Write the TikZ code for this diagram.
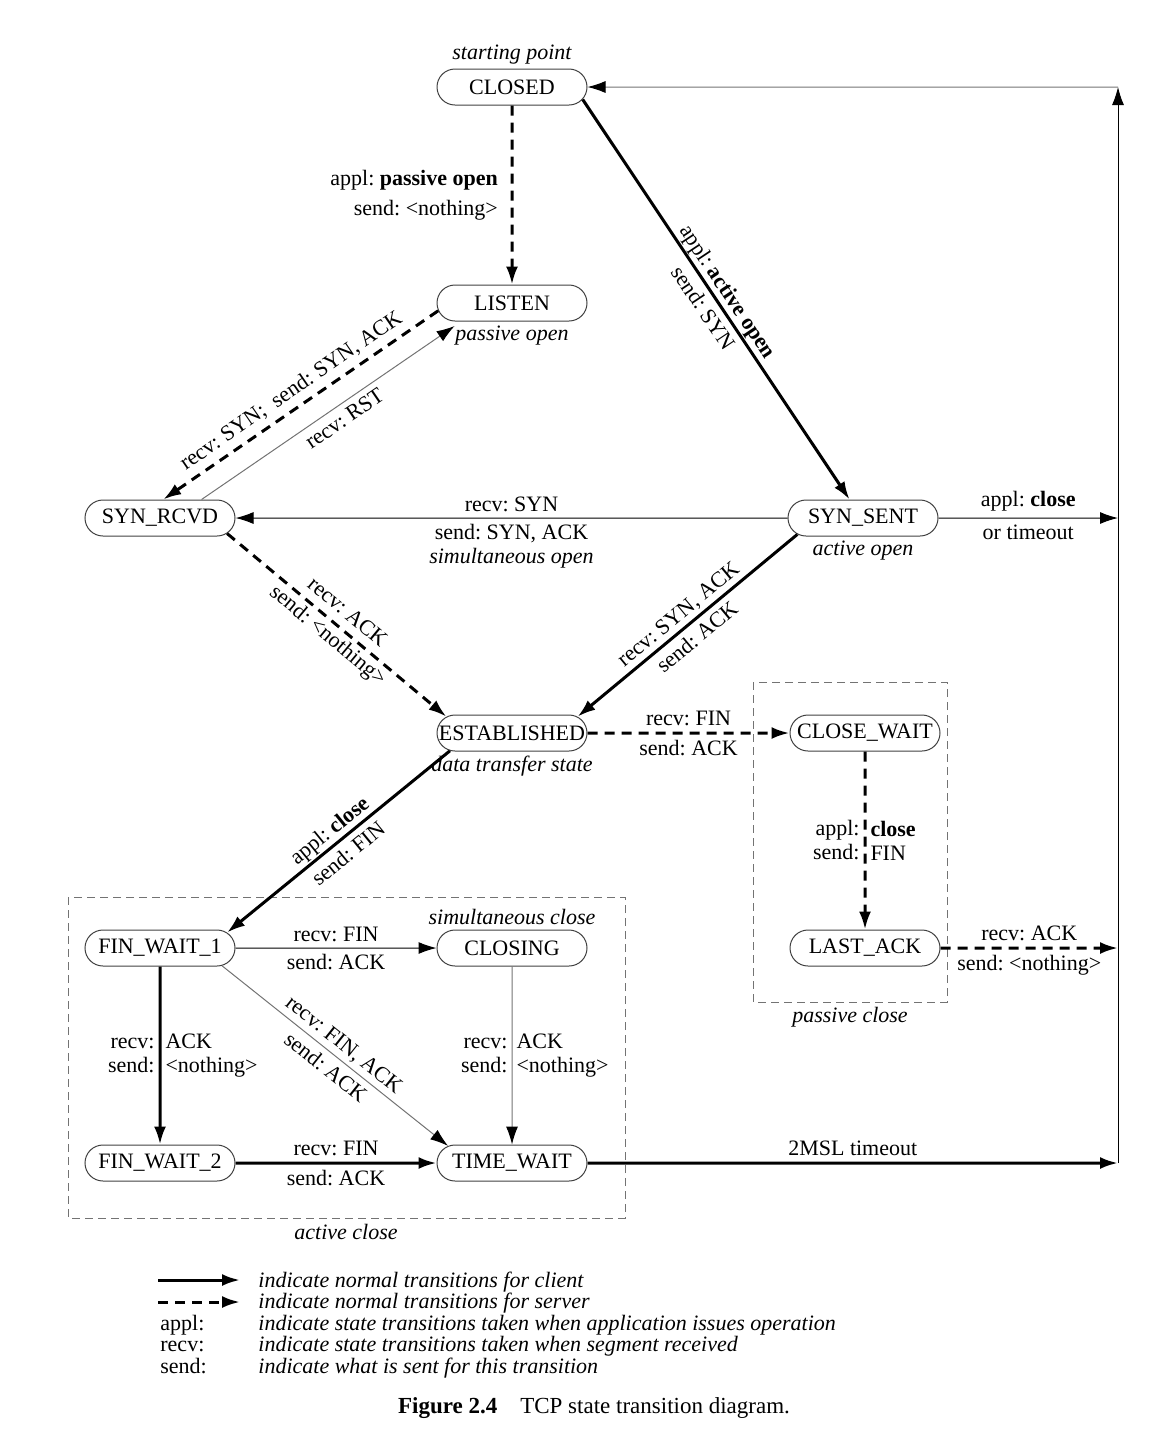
\documentclass[tikz,border=0pt]{standalone}
\usepackage{fontspec}
\setmainfont{Liberation Serif}
\usetikzlibrary{arrows.meta,positioning,shapes.misc}
\frenchspacing

\begin{document}
\begin{tikzpicture}[x=0.5pt,y=-0.5pt,font=\fontsize{11}{13}\selectfont,
state/.style={rounded rectangle,draw=black!75,line width=.5pt,minimum width=77pt,minimum height=18pt,inner sep=1pt},
note/.style={font=\fontsize{11}{13}\selectfont\itshape,inner sep=2pt},
arr/.style={-{Latex[length=9pt,width=6pt,color=black]}},
cli/.style={arr,line width=1.5pt},
srv/.style={cli,dash pattern=on 5pt off 3.5pt},
thn/.style={arr,line width=.5pt},
gry/.style={thn,draw=black!55},
grp/.style={draw=black!55,line width=.5pt,dash pattern=on 4pt off 2.5pt},
lbl/.style={inner sep=3pt},
two/.style={align=center,inner sep=0pt,font=\fontsize{11}{15}\selectfont},
pair/.style={inner sep=2pt,font=\fontsize{11}{12}\selectfont},
key/.style={anchor=base west,inner sep=0pt}]
\useasboundingbox (0,0) rectangle (1176,1442);
\draw[grp] (68,897) rectangle (625,1218);
\draw[grp] (753,682) rectangle (947,1002);
\node[note] at (346,1232) {active close};
\node[note] at (850,1017) {passive close};
\node[state] (closed) at (512,87) {CLOSED};
\node[state] (listen) at (512,303) {LISTEN};
\node[state] (synrcvd) at (160,518) {SYN\_RCVD};
\node[state] (synsent) at (863,518) {SYN\_SENT};
\node[state] (estab) at (512,733) {ESTABLISHED};
\node[state] (closewait) at (865,733) {CLOSE\_WAIT};
\node[state] (lastack) at (865,948) {LAST\_ACK};
\node[state] (finwait1) at (160,948) {FIN\_WAIT\_1};
\node[state] (closing) at (512,948) {CLOSING};
\node[state] (finwait2) at (160,1163) {FIN\_WAIT\_2};
\node[state] (timewait) at (512,1163) {TIME\_WAIT};
\node[note,above=0pt of closed] {starting point};
\node[note,below=0pt of listen] {passive open};
\node[note,below=0pt of synsent] {active open};
\node[note,below=0pt of estab] {data transfer state};
\node[note,above=0pt of closing] {simultaneous close};
\coordinate (rtop) at (1118,87);
\coordinate (rsyn) at (1118,518);
\coordinate (rlast) at (1118,948);
\coordinate (rtime) at (1118,1163);
\draw[srv] (closed) -- node[left,align=right,xshift=-3pt,font=\fontsize{11}{15}\selectfont]{appl: \textbf{passive open}\\send: <nothing>} (listen);
\draw[cli] (closed.-10) -- node[two,sloped]{appl: \textbf{active open}\\send: SYN} (synsent.126);
\draw[srv] (listen.186) -- node[lbl,sloped,above]{recv: SYN;\enspace send: SYN, ACK} (synrcvd.80);
\draw[gry,shorten >=4pt] (synrcvd.24) -- node[lbl,sloped,below,pos=.52]{recv: RST} (listen.200);
\draw[thn] (synsent) -- node[lbl,above]{recv: SYN} node[lbl,below,align=center,font=\fontsize{11}{12}\selectfont]{send: SYN, ACK\\\textit{simultaneous open}} (synrcvd);
\draw[thn] (synsent) -- node[lbl,above]{appl: \textbf{close}} node[lbl,below]{or timeout} (rsyn);
\draw[srv] (synrcvd.-13) -- node[two,sloped]{recv: ACK\\send: <nothing>} (estab.166);
\draw[cli] (synsent.194) -- node[two,sloped]{recv: SYN, ACK\\send: ACK} (estab.14);
\draw[srv] (estab) -- node[lbl,above]{recv: FIN} node[lbl,below]{send: ACK} (closewait);
\draw[srv] (closewait) -- node[pair,left,align=right]{appl:\\send:} node[pair,right,align=left]{\textbf{close}\\FIN} (lastack);
\draw[srv] (lastack) -- node[lbl,above]{recv: ACK} node[lbl,below]{send: <nothing>} (rlast);
\draw[cli] (estab.196) -- node[two,sloped]{appl: \textbf{close}\\send: FIN} (finwait1.13);
\draw[thn] (finwait1) -- node[lbl,above]{recv: FIN} node[lbl,below]{send: ACK} (closing);
\draw[cli] (finwait1) -- node[pair,left,align=right]{recv:\\send:} node[pair,right,align=left]{ACK\\<nothing>} (finwait2);
\draw[gry] (finwait1.-16) -- node[two,sloped]{recv: FIN, ACK\\send: ACK} (timewait.165);
\draw[gry] (closing) -- node[pair,left,align=right]{recv:\\send:} node[pair,right,align=left]{ACK\\<nothing>} (timewait);
\draw[cli] (finwait2) -- node[lbl,above]{recv: FIN} node[lbl,below]{send: ACK} (timewait);
\draw[cli] (timewait) -- node[lbl,above]{2MSL timeout} (rtime);
\draw[thn] (rtime) -- (rtop);
\draw[gry] (rtop) -- (closed);
\coordinate (k1a) at (158,1280); \coordinate (k1b) at (240,1280);
\coordinate (k2a) at (158,1302); \coordinate (k2b) at (240,1302);
\draw[cli] (k1a) -- (k1b);
\draw[srv] (k2a) -- (k2b);
\node[key,font=\fontsize{11}{13}\selectfont\itshape] (key1) at (258,1287) {indicate normal transitions for client};
\node[key,font=\fontsize{11}{13}\selectfont\itshape] (key2) at (258,1308) {indicate normal transitions for server};
\node[key,font=\fontsize{11}{13}\selectfont\itshape] (key3) at (258,1330) {indicate state transitions taken when application issues operation};
\node[key,font=\fontsize{11}{13}\selectfont\itshape] (key4) at (258,1351) {indicate state transitions taken when segment received};
\node[key,font=\fontsize{11}{13}\selectfont\itshape] (key5) at (258,1373) {indicate what is sent for this transition};
\node[key] (appl) at (160,1330) {appl:};
\node[key] (recv) at (160,1351) {recv:};
\node[key] (send) at (160,1373) {send:};
\node[font=\fontsize{11.5}{13}\selectfont] (caption) at (594,1408) {\textbf{Figure 2.4}\quad TCP state transition diagram.};
\end{tikzpicture}
\end{document}
